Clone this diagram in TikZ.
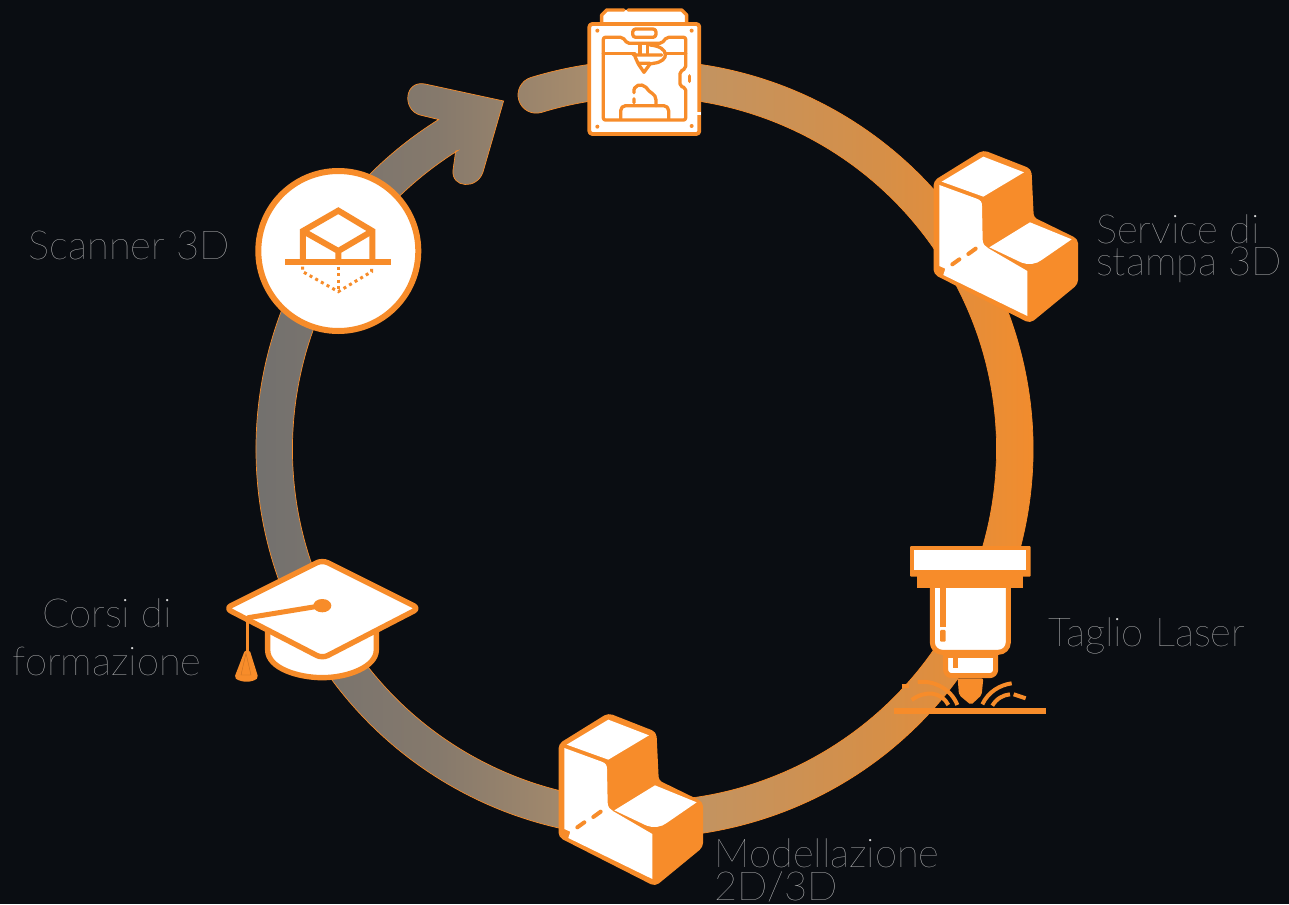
\documentclass[tikz,border=0pt]{standalone}
\usepackage{xcolor}
\usepackage{fontspec}
\setmainfont{Lato Thin}
\usetikzlibrary{positioning,calc}

\definecolor{bgdark}{HTML}{0A0D12}
\definecolor{ringor}{HTML}{F78C2A}
\definecolor{labgray}{HTML}{DADADA}
\definecolor{rfA}{HTML}{6F6F6F}
\definecolor{rfB}{HTML}{85796C}
\definecolor{rfC}{HTML}{A88C6C}
\definecolor{rfD}{HTML}{C4935F}
\definecolor{rfE}{HTML}{D58F48}
\definecolor{rfF}{HTML}{F38C2C}
\pgfdeclarehorizontalshading{ringfade}{100bp}{color(0bp)=(rfA); color(25bp)=(rfA); color(37.5bp)=(rfB); color(46.3bp)=(rfC); color(53.6bp)=(rfD); color(63.2bp)=(rfE); color(72.9bp)=(rfF); color(75bp)=(ringor); color(100bp)=(ringor)}

\tikzset{
  lblock/.pic={
    \fill[ringor, draw=ringor, line width=3pt, line join=round, rounded corners=4pt]
      (190,35) -- (330,90) -- (337,235) -- (470,300) -- (470,430) -- (330,545) -- (45,400) -- (45,125) -- cycle;
    \fill[white] (65,125) -- (190,50) -- (312,97) -- (190,170) -- cycle;
    \fill[white] (58,135) -- (170,176) .. controls (182,180) and (186,186) .. (186,198)
      -- (188,300) .. controls (188,312) and (196,320) .. (205,325)
      -- (322,393) -- (322,528) -- (70,405) -- (76,386) -- (58,378) -- cycle;
    \fill[white] (208,322) -- (330,247) -- (455,298) -- (365,360)
      .. controls (350,372) and (325,376) .. (305,368) -- cycle;
    \draw[ringor, line width=4pt, line cap=round] (97,373) -- (118,358) (145,342) -- (167,326);
  }
}

\begin{document}
\begin{tikzpicture}[x=1pt, y=-1pt]
    % Styles
    \tikzstyle{lab} = [text=labgray, font=\fontsize{40}{40}\selectfont, inner sep=0pt, align=left]
    \tikzstyle{zoomed} = [x=0.3333pt, y=-0.3333pt]
    \tikzstyle{icon} = [draw=ringor, line join=round, line cap=round]

    % Background
    \fill[bgdark] (0,0) rectangle (1289,904);
    \useasboundingbox (0,0) rectangle (1289,904);
    \coordinate (Cen) at (644.5,449);

    % Ring with arrow head
    \shade[shading=ringfade, draw=ringor, line width=0.7pt]
      ($(Cen)+(-107:388.5)$) arc[start angle=-107, end angle=238, radius=388.5]
      -- (420,115) .. controls (402,110) and (404,80) .. (425,84)
      -- (503.6,101) -- (483,172) .. controls (477,190) and (451,188) .. (453,170)
      -- (455.7,151) -- ($(Cen)+(238:352)$)
      arc[start angle=238, end angle=-107, radius=352]
      arc[start angle=73, end angle=253, radius=18.25] -- cycle;

    % Printer
    \begin{scope}[shift={(570,0)}, zoomed]
      \fill[white] (95,70) -- (95,45) -- (110,30) -- (335,30) -- (350,45) -- (350,70) -- cycle;
      \draw[icon, line width=3.4pt] (162,30) -- (110,30) -- (95,45) -- (95,70);
      \draw[icon, line width=3.4pt] (174,30) -- (335,30) -- (350,45) -- (350,70);
      \draw[icon, fill=white, line width=3.8pt, rounded corners=3pt] (58,72) rectangle (388,402);
      \fill[white] (382,335) rectangle (394,345);
      \foreach \dx/\dy in {82/92,365/92,82/380,365/378}
        \fill[ringor] (\dx,\dy) circle[radius=6];
      \draw[icon, line width=3.3pt, rounded corners=2pt]
        (100,112) -- (158,112) -- (172,130) -- (275,130) -- (290,112) -- (347,112) -- (347,205)
        -- (330,215) -- (330,258) -- (347,264) -- (347,360) -- (100,360) -- cycle;
      \draw[icon, line width=3.3pt] (100,160) -- (195,160) (285,160) -- (347,160);
      \draw[icon, line width=3.3pt, rounded corners=3pt] (188,87) rectangle (258,112);
      \draw[icon, line width=3.3pt] (210,135) -- (210,160) (232,135) -- (232,160);
      \draw[icon, line width=3.3pt] (240,135) .. controls (300,140) and (300,185) .. (250,190);
      \draw[icon, line width=3.3pt] (190,165) -- (275,165) (195,170) -- (205,192) -- (222,217) -- (240,192) -- (250,190) (205,190) -- (240,190);
      \draw[icon, line width=3.6pt] (358,228) -- (358,244);
      \draw[icon, line width=3.3pt, rounded corners=5pt] (152,358) -- (152,317) -- (296,317) -- (296,358);
      \draw[icon, line width=3.3pt] (192,296) -- (192,308) (192,278) .. controls (188,255) and (215,248) .. (228,262)
        .. controls (238,280) and (258,280) .. (258,300) -- (258,317);
    \end{scope}

    % Service block
    \begin{scope}[shift={(920,140)}, zoomed]
      \pic {lblock};
    \end{scope}
    \coordinate (Srv) at (1080,249);
    \node[lab, font=\fontsize{40}{32}\selectfont, right=16pt of Srv] (SrvLab) {Service di\\stampa 3D};

    % Laser
    \begin{scope}[shift={(885,535)}, zoomed]
      \draw[icon, fill=white, line width=5pt, rounded corners=10pt] (142,150) -- (142,352) -- (370,352) -- (370,150);
      \fill[ringor] (97,115) rectangle (415,160);
      \fill[ringor, rounded corners=1pt] (75,33) rectangle (437,125);
      \fill[white] (88,45) rectangle (423,105);
      \fill[ringor] (165,160) rectangle (182,275);
      \fill[ringor, rounded corners=1pt] (165,285) rectangle (182,320);
      \draw[icon, fill=white, line width=5pt, rounded corners=6pt] (182,358) -- (182,422) -- (332,422) -- (332,358);
      \fill[ringor] (182,352) rectangle (332,368);
      \fill[ringor] (205,368) rectangle (220,398);
      \fill[ringor, rounded corners=2pt] (218,430) -- (295,430) -- (290,480) -- (258,510) -- (222,480) -- cycle;
      \draw[ringor, line width=4pt] (98,441) .. controls (150,435) and (200,465) .. (217,510);
      \draw[ringor, line width=4pt] (80,495) .. controls (120,465) and (170,470) .. (190,510);
      \draw[ringor, line width=4pt] (50,453) -- (72,453);
      \draw[ringor, line width=4pt] (292,508) .. controls (310,470) and (345,450) .. (380,445);
      \draw[ringor, line width=4pt] (322,512) .. controls (335,490) and (355,480) .. (375,478);
      \draw[ringor, line width=4pt] (386,478) -- (422,490);
      \fill[ringor] (27,519) rectangle (483,537);
    \end{scope}
    \coordinate (Lsr) at (1032,636);
    \node[lab, right=16pt of Lsr] (LsrLab) {Taglio Laser};

    % Modelling block
    \begin{scope}[shift={(545,703)}, zoomed]
      \pic {lblock};
    \end{scope}
    \node[lab, font=\fontsize{40}{33}\selectfont, anchor=west] (ModLab) at (714,870) {Modellazione\\2D/3D};

    % Cap
    \begin{scope}[shift={(215,550)}, zoomed]
      \draw[icon, fill=white, line width=5.4pt] (158,240) -- (158,300) .. controls (158,355) and (250,383) .. (322,383)
        .. controls (400,383) and (484,350) .. (484,300) -- (484,240);
      \draw[icon, fill=white, line width=5.4pt, rounded corners=6pt]
        (322,30) -- (612,175) -- (322,325) -- (32,175) -- cycle;
      \draw[ringor, line width=5pt, line cap=round] (100,203) -- (320,167);
      \fill[ringor] (322,167) ellipse[x radius=27, y radius=20];
      \draw[ringor, line width=3.4pt] (97,205) -- (97,310);
      \fill[ringor, rounded corners=2pt] (90,300) -- (104,300) -- (130,383) .. controls (110,398) and (80,398) .. (58,383) -- cycle;
      \draw[ringor!80!black, line width=0.4pt] (93,310) -- (108,375) -- (78,375) -- cycle;
    \end{scope}
    \node[lab, align=center, font=\fontsize{40}{48}\selectfont] (CapLab) at (107,637) {Corsi di\\formazione};

    % Scanner
    \node[circle, draw=ringor, fill=white, line width=6pt, minimum size=160pt, inner sep=0pt] (Scan) at (338.3,251) {};
    \node[lab, left=25pt of Scan, yshift=6pt] (ScanLab) {Scanner 3D};
    \begin{scope}[shift={(250,75)}, zoomed]
      \draw[ringor, line width=6pt] (159,552) -- (159,468) -- (265,407) -- (367,468) -- (367,552);
      \draw[ringor, line width=6pt] (159,468) -- (265,528) -- (367,468) (265,528) -- (265,552);
      \fill[ringor] (105,552) rectangle (423,570);
      \draw[ringor, line width=3pt, dash pattern=on 3pt off 3.5pt] (158,575) -- (158,590) -- (265,650) -- (365,590) -- (365,575);
      \draw[ringor, line width=3pt, dash pattern=on 3pt off 3.5pt] (265,575) -- (265,650);
    \end{scope}
\end{tikzpicture}
\end{document}
